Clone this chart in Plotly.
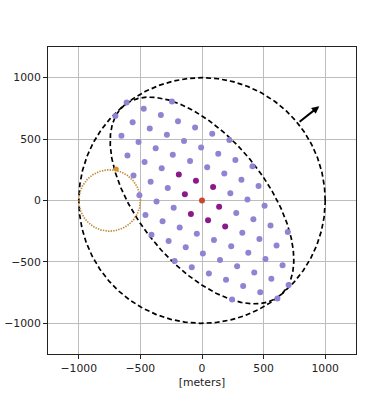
import numpy as np
import plotly.graph_objects as go

# ---- data ----
outer_x = [-244, -612, -473, -334, -195, -56, 83, 222,
           -703, -563, -424, -285, -146, -7, 132, 271, 410,
           -654, -515, -376, -237, -97, 42, 181, 320, 459,
           -605, -466, -327, 230, 369, 508,
           -556, -417, -278, 278, 417, 556, 696,
           -508, -369, -230, 327, 466, 605,
           -459, -320, -181, -42, 97, 237, 376, 515, 654,
           -410, -271, -132, 7, 146, 285, 424, 563, 703,
           -222, -83, 56, 195, 334, 473, 612,
           244]
outer_y = [806, 798, 747, 696, 645, 594, 543, 492,
           688, 637, 586, 535, 484, 432, 381, 330, 279,
           527, 476, 425, 373, 322, 271, 220, 169, 118,
           366, 314, 263, 59, 8, -43,
           204, 153, 102, -102, -153, -204, -256,
           43, -8, -59, -263, -314, -366,
           -118, -169, -220, -271, -322, -373, -425, -476, -527,
           -279, -330, -381, -432, -484, -535, -586, -637, -688,
           -492, -543, -594, -645, -696, -747, -798,
           -806]
inner_x = [-188, -49, 90, -139, 139, -90, 49, 188]
inner_y = [212, 161, 110, 51, -51, -110, -161, -212]
center_x = [0]
center_y = [0]
ref_x = [-696]
ref_y = [256]

tick_vals = [-1000, -500, 0, 500, 1000]
tick_text = ["\u22121000", "\u2212500", "0", "500", "1000"]

circle_radius = 1000
ellipse_major = 1000
ellipse_minor = 514
ellipse_angle_deg = 129
orange_cx, orange_cy, orange_r = -750, 0, 250
arrow_tail = (780, 632)
arrow_head = (952, 768)

# ---- geometry curves ----
t = np.linspace(0, 2 * np.pi, 721)
cx = circle_radius * np.cos(t)
cy = circle_radius * np.sin(t)
th = np.deg2rad(ellipse_angle_deg)
ex = ellipse_major * np.cos(t) * np.cos(th) - ellipse_minor * np.sin(t) * np.sin(th)
ey = ellipse_major * np.cos(t) * np.sin(th) + ellipse_minor * np.sin(t) * np.cos(th)
ox = orange_cx + orange_r * np.cos(t)
oy = orange_cy + orange_r * np.sin(t)

fig = go.Figure()
dash_line = dict(color="black", width=1.7, dash="5px,3px")
fig.add_trace(go.Scatter(x=cx, y=cy, mode="lines", line=dash_line, hoverinfo="skip"))
fig.add_trace(go.Scatter(x=ex, y=ey, mode="lines", line=dash_line, hoverinfo="skip"))
fig.add_trace(go.Scatter(x=ox, y=oy, mode="lines",
                         line=dict(color="#c48a3e", width=1.7, dash="1.4px,1.2px"),
                         hoverinfo="skip"))

fig.add_trace(go.Scatter(x=outer_x, y=outer_y, mode="markers",
                         marker=dict(size=6, color="#8e84d2")))
fig.add_trace(go.Scatter(x=inner_x, y=inner_y, mode="markers",
                         marker=dict(size=6, color="#8a1a8c")))
fig.add_trace(go.Scatter(x=center_x, y=center_y, mode="markers",
                         marker=dict(size=6, color="#c9472c")))
fig.add_trace(go.Scatter(x=ref_x, y=ref_y, mode="markers",
                         marker=dict(size=5, color="#d9902e")))

fig.add_annotation(x=arrow_head[0], y=arrow_head[1], ax=arrow_tail[0], ay=arrow_tail[1],
                   xref="x", yref="y", axref="x", ayref="y", text="",
                   showarrow=True, arrowhead=2, arrowsize=0.75, arrowwidth=2,
                   arrowcolor="black", standoff=0)

axis_common = dict(
    range=[-1250, 1250], tickvals=tick_vals, ticktext=tick_text,
    showgrid=True, gridcolor="#bdbdbd", gridwidth=1, zeroline=False,
    showline=True, mirror=True, linecolor="#222222", linewidth=1,
    ticks="outside", ticklen=4, tickwidth=0.8, tickcolor="#222222",
    tickfont=dict(family="DejaVu Sans", size=10.8, color="#222222"),
    automargin=False,
)
fig.update_xaxes(**axis_common, title=dict(text="[meters]", standoff=4,
                 font=dict(family="DejaVu Sans", size=10.8, color="#222222")))
fig.update_yaxes(**axis_common)

fig.update_layout(
    width=392, height=396,
    margin=dict(l=48, r=36, t=47, b=42),
    paper_bgcolor="white", plot_bgcolor="white",
    showlegend=False,
    font=dict(family="DejaVu Sans"),
)

fig.write_html("out.html", config={"displayModeBar": False},
               post_script="document.body.style.margin='0';")
